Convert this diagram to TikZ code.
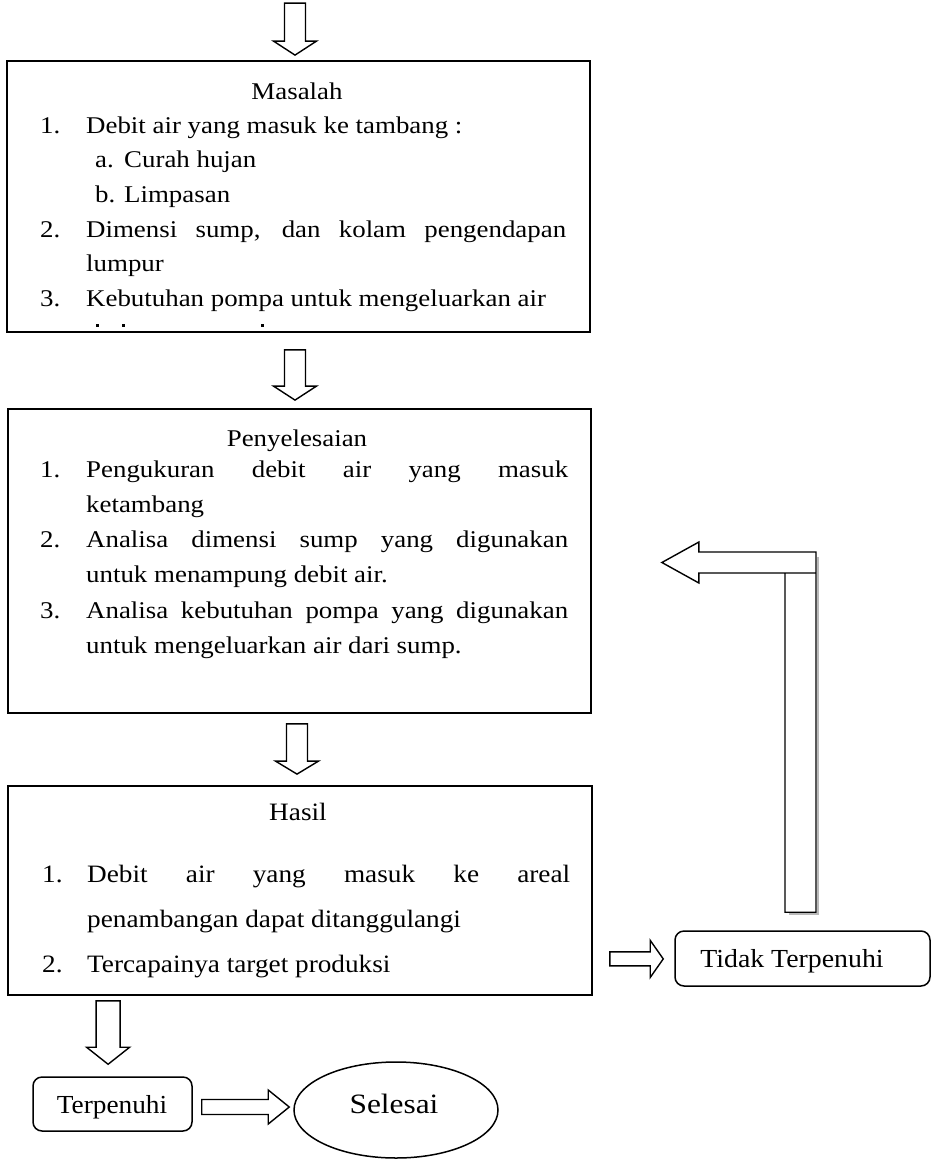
\documentclass[tikz,border=0pt]{standalone}
\usepackage{fontspec}
\setmainfont{Liberation Serif}
\newfontfamily\fA[FakeStretch=1.12]{Liberation Serif}
\newfontfamily\fB[FakeStretch=1.09]{Liberation Serif}
\newfontfamily\fC[FakeStretch=1.05]{Liberation Serif}
\newfontfamily\fD[FakeStretch=1.07]{Liberation Serif}
\newfontfamily\fE[FakeStretch=1.12]{Liberation Serif}
\usetikzlibrary{calc,shapes.geometric}
\newcommand\LItem[3]{\noindent\hangindent=#3\hangafter=1\makebox[#3][l]{#1}#2\par}
\newcommand\SItem[2]{\noindent\hspace*{55pt}\makebox[29pt][l]{#1}#2\par}
\newcommand\ListSetup{\tolerance=10000\hbadness=10000\parindent=0pt\parskip=0pt\relax}
% down block arrow: start, tip, shaft half width, head half width, head length
\newcommand\DArr[5]{\draw[blockarrow] let \p1=(#1), \p2=(#2) in
  (\x1-#3pt,\y1) -- (\x1+#3pt,\y1) -- (\x1+#3pt,\y2+#5pt) -- (\x1+#4pt,\y2+#5pt)
  -- (\x1,\y2) -- (\x1-#4pt,\y2+#5pt) -- (\x1-#3pt,\y2+#5pt) -- cycle;}
% right block arrow: start, tip, shaft half height, head half height, head length
\newcommand\RArr[5]{\draw[blockarrow] let \p1=(#1), \p2=(#2) in
  (\x1,\y1+#3pt) -- (\x2-#5pt,\y1+#3pt) -- (\x2-#5pt,\y1+#4pt) -- (\x2,\y1)
  -- (\x2-#5pt,\y1-#4pt) -- (\x2-#5pt,\y1-#3pt) -- (\x1,\y1-#3pt) -- cycle;}
\begin{document}
\begin{tikzpicture}[x=1pt,y=-1pt,
  mainbox/.style={draw, line width=1.8pt, inner sep=0pt},
  roundbox/.style={draw, line width=1.5pt, rounded corners=9pt, inner sep=0pt},
  blockarrow/.style={draw, line width=1.4pt, line join=miter, fill=white},
  listtext/.style={anchor=north west, inner sep=0pt, align=justify},
  titletext/.style={anchor=base, inner sep=0pt}]
\useasboundingbox (0,0) rectangle (936,1159);

% main boxes
\node[mainbox, minimum width=583pt, minimum height=271pt] (m) at (298.5,196.5) {};
\node[mainbox, minimum width=583pt, minimum height=304pt] (p) at (299.5,561) {};
\node[mainbox, minimum width=584pt, minimum height=209pt] (h) at (300,890.5) {};

% small nodes
\node[roundbox, minimum width=159pt, minimum height=54pt] (t) at (112.5,1104) {};
\node[titletext] (tl) at (112,1113) {\fC\fontsize{26}{30}\selectfont Terpenuhi};
\node[draw, ellipse, line width=1.5pt, minimum width=204pt, minimum height=96pt, inner sep=0pt] (s) at (396,1110) {};
\node[titletext] (sl) at (394,1113) {\fE\fontsize{28}{32}\selectfont Selesai};
\node[roundbox, minimum width=255pt, minimum height=55pt] (d) at (802.5,958.5) {};
\node[titletext] (dl) at (792,967) {\fD\fontsize{26}{30}\selectfont Tidak Terpenuhi};

% Masalah
\node[titletext] (mt) at (297,99) {\fA\fontsize{24}{34.6}\selectfont Masalah};
\node[listtext, text width=526pt] (ml) at (40,113) {\fA\fontsize{24}{34.6}\selectfont\ListSetup%
\LItem{1.}{\rule{0pt}{20pt}Debit air yang masuk ke tambang :}{46pt}%
\SItem{a.}{Curah hujan}%
\SItem{b.}{Limpasan}%
\LItem{2.}{Dimensi sump, dan kolam pengendapan\linebreak lumpur}{46pt}%
\LItem{3.}{Kebutuhan pompa untuk mengeluarkan air}{46pt}};
\fill (95.5,324) rectangle (98.5,326.5);
\fill (121.5,324) rectangle (124.5,326.5);
\fill (260.5,324) rectangle (263.5,326.5);

% Penyelesaian
\node[titletext] (pt) at (297,446) {\fA\fontsize{24}{35.2}\selectfont Penyelesaian};
\node[listtext, text width=528pt] (pl) at (40,457) {\fA\fontsize{24}{35.2}\selectfont\ListSetup%
\LItem{1.}{\rule{0pt}{20pt}Pengukuran debit air yang masuk\linebreak ketambang}{46pt}%
\LItem{2.}{Analisa dimensi sump yang digunakan\linebreak untuk menampung debit air.}{46pt}%
\LItem{3.}{Analisa kebutuhan pompa yang digunakan\linebreak untuk mengeluarkan air dari sump.}{46pt}};

% Hasil
\node[titletext] (ht) at (298,820) {\fB\fontsize{25}{45}\selectfont Hasil};
\node[listtext, text width=528pt] (hl) at (42,862) {\fB\fontsize{25}{45}\selectfont\ListSetup%
\LItem{1.}{\rule{0pt}{20pt}Debit air yang masuk ke areal\linebreak penambangan dapat ditanggulangi}{45pt}%
\LItem{2.}{Tercapainya target produksi}{45pt}};

% arrow end coordinates
\coordinate (a0s) at ($(m.north)+(-3.5,-57)$);
\coordinate (a0e) at ($(m.north)+(-3.5,-5)$);
\coordinate (a1s) at ($(m.south)+(-3.5,17)$);
\coordinate (a1e) at ($(p.north)+(-4.5,-8)$);
\coordinate (a2s) at ($(p.south)+(-2.5,10)$);
\coordinate (a2e) at ($(h.north)+(-3,-11)$);
\coordinate (a3s) at ($(h.south west)+(101,5)$);
\coordinate (a3e) at ($(t.north)+(-3.5,-12)$);
\coordinate (a4s) at ($(t.east)+(9,3)$);
\coordinate (a4e) at ($(s.west)+(-4,-3)$);
\coordinate (a5s) at ($(h.south east)+(17,-37)$);
\coordinate (a5e) at ($(d.west)+(-11,0)$);
\coordinate (lb) at ($(d.north)+(-2,-18)$);
\coordinate (lt) at ($(p.east)+(70,1.5)$);

% block arrows
\DArr{a0s}{a0e}{10.5}{21.5}{14}
\DArr{a1s}{a1e}{10.5}{21.5}{14}
\DArr{a2s}{a2e}{10.5}{21.5}{13}
\DArr{a3s}{a3e}{12}{21.5}{17}
\RArr{a4s}{a4e}{7.5}{17}{21}
\RArr{a5s}{a5e}{7}{18.5}{13}

% L-shaped return arrow
\draw[gray!55, line width=2.2pt] let \p1=(lb), \p2=(lt) in
  (\x1+17.3pt,\y2+6pt) -- (\x1+17.3pt,\y1-1.8pt) -- (\x1-12pt,\y1-1.8pt);
\draw[blockarrow] let \p1=(lb), \p2=(lt) in
  (\x1-15.5pt,\y1) -- (\x1+15.5pt,\y1) -- (\x1+15.5pt,\y2+10.5pt)
  -- (\x2+37pt,\y2+10.5pt) -- (\x2+37pt,\y2+20.5pt) -- (\x2,\y2)
  -- (\x2+37pt,\y2-20.5pt) -- (\x2+37pt,\y2-10.5pt) -- (\x1-15.5pt,\y2-10.5pt) -- cycle
  (\x1-15.5pt,\y2-10.5pt) -- (\x1+15.5pt,\y2-10.5pt);
\end{tikzpicture}
\end{document}
